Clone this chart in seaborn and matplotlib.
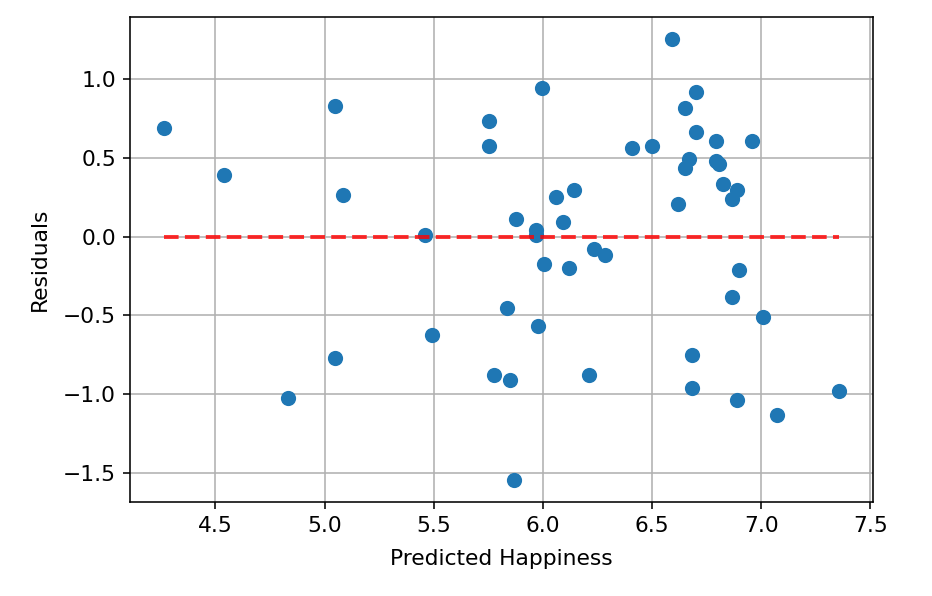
import matplotlib
matplotlib.use("Agg")
import matplotlib.pyplot as plt
import seaborn as sns
import pandas as pd

predicted = [4.264, 5.047, 4.540, 5.086, 5.755, 5.755, 5.461, 5.877, 5.968, 5.968,
             6.005, 5.837, 5.979, 5.491, 5.047, 5.776, 5.848, 4.833, 5.869, 5.997,
             6.058, 6.141, 6.090, 6.235, 6.284, 6.121, 6.213, 6.406, 6.498, 6.590,
             6.702, 6.652, 6.702, 6.793, 6.959, 6.670, 6.652, 6.793, 6.805, 6.827,
             6.888, 6.867, 6.621, 6.897, 6.867, 7.008, 6.683, 6.683, 6.888, 7.072,
             7.357]
residuals = [0.689, 0.831, 0.392, 0.265, 0.732, 0.575, 0.013, 0.110, 0.042, 0.008,
             -0.172, -0.454, -0.568, -0.623, -0.768, -0.880, -0.910, -1.022, -1.544, 0.944,
             0.250, 0.293, 0.095, -0.076, -0.117, -0.201, -0.880, 0.562, 0.575, 1.253,
             0.914, 0.814, 0.662, 0.604, 0.604, 0.490, 0.435, 0.477, 0.458, 0.335,
             0.297, 0.237, 0.208, -0.214, -0.386, -0.513, -0.751, -0.963, -1.035, -1.134,
             -0.980]

x_label = "Predicted Happiness"
y_label = "Residuals"

df = pd.DataFrame({"pred": predicted, "resid": residuals})

plt.rcParams["font.size"] = 11

dpi = 142
fig, ax = plt.subplots(figsize=(932 / dpi, 596 / dpi), dpi=dpi)
fig.subplots_adjust(left=130 / 932, right=873 / 932, top=1 - 17 / 596, bottom=1 - 502 / 596)

sns.scatterplot(data=df, x="pred", y="resid", ax=ax, color="#1f77b4",
                s=45, linewidth=1, edgecolor="#1f77b4", zorder=3)
ax.plot([min(predicted), max(predicted)], [0, 0], color="red", linestyle="--",
        linewidth=2, alpha=0.8, zorder=4)

ax.grid(True, color="#b0b0b0", linewidth=0.8)
ax.set_axisbelow(True)
ax.set_xlabel(x_label, labelpad=6.5)
ax.set_ylabel(y_label, labelpad=6.5)
ax.margins(0.05)

fig.savefig("out.png", dpi=dpi)
